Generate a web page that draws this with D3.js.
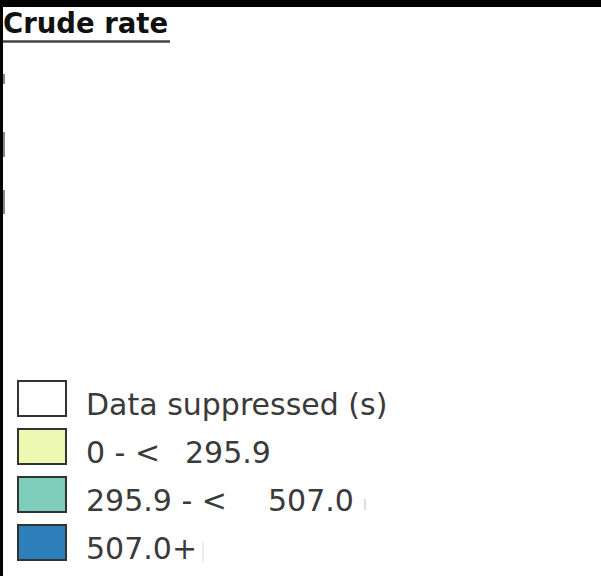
<!DOCTYPE html>
<html>
<head>
<meta charset="utf-8">
<script src="https://cdn.jsdelivr.net/npm/d3@7"></script>
<style>
  html, body { margin: 0; padding: 0; background: #fff; }
  svg { display: block; }
</style>
</head>
<body>
<svg id="chart"></svg>
<script>
// legend classes (crude rate)
const classLabels = ["Data suppressed (s)", "0 - <", "295.9 - <", "507.0+"];
const classUpper = ["", "295.9", "507.0", ""];
const classColors = ["#ffffff", "#edf8b1", "#7fcdbb", "#2c7fb8"];

const width = 601, height = 576;

const svg = d3.select("#chart")
	.attr("width", width)
	.attr("height", height);

svg.append("rect").attr("width", width).attr("height", height).attr("fill", "#fff");

// dark frame bits at top / left edge
svg.append("rect").attr("x", 0).attr("y", 0).attr("width", width).attr("height", 7).attr("fill", "#000");
svg.append("rect").attr("x", 0).attr("y", 0).attr("width", 3).attr("height", height).attr("fill", "#000");

// small leftover marks on left edge
[[74, 10], [132, 25], [190, 24]].forEach(([y, h]) => {
	svg.append("rect").attr("x", 3).attr("y", y).attr("width", 2).attr("height", h).attr("fill", "#888");
});

// title
svg.append("text")
	.attr("x", 3)
	.attr("y", 33)
	.attr("font-family", "DejaVu Sans, sans-serif")
	.attr("font-weight", "bold")
	.attr("font-size", 27.5)
	.attr("fill", "#111")
	.text("Crude rate");

svg.append("line")
	.attr("x1", 3).attr("x2", 170)
	.attr("y1", 41.5).attr("y2", 41.5)
	.attr("stroke", "#444")
	.attr("stroke-width", 2.5);

// legend
const y = d3.scaleBand()
	.domain(d3.range(classLabels.length))
	.range([376, 568])
	.paddingInner(0);

const rows = svg.append("g")
	.selectAll("g")
	.data(classLabels)
	.join("g")
	.attr("transform", (d, i) => `translate(0,${y(i)})`);

rows.append("rect")
	.attr("x", 18)
	.attr("y", 5)
	.attr("width", 48)
	.attr("height", 35)
	.attr("fill", (d, i) => classColors[i])
	.attr("stroke", "#333")
	.attr("stroke-width", 2);

const upperX = [0, 185, 268, 0];

const labels = rows.append("text")
	.attr("y", 39)
	.attr("font-family", "DejaVu Sans, sans-serif")
	.attr("font-size", 30)
	.attr("fill", "#3a3a3a");

labels.append("tspan")
	.attr("x", 86)
	.text(d => d);

labels.filter((d, i) => classUpper[i] !== "")
	.append("tspan")
	.attr("x", (d, i) => upperX[classLabels.indexOf(d)])
	.text(d => classUpper[classLabels.indexOf(d)]);

// faint clipped marks
svg.append("rect").attr("x", 364).attr("y", 499).attr("width", 2).attr("height", 11).attr("fill", "#ddd");
svg.append("rect").attr("x", 202).attr("y", 542).attr("width", 2).attr("height", 20).attr("fill", "#eee");
</script>
</body>
</html>
